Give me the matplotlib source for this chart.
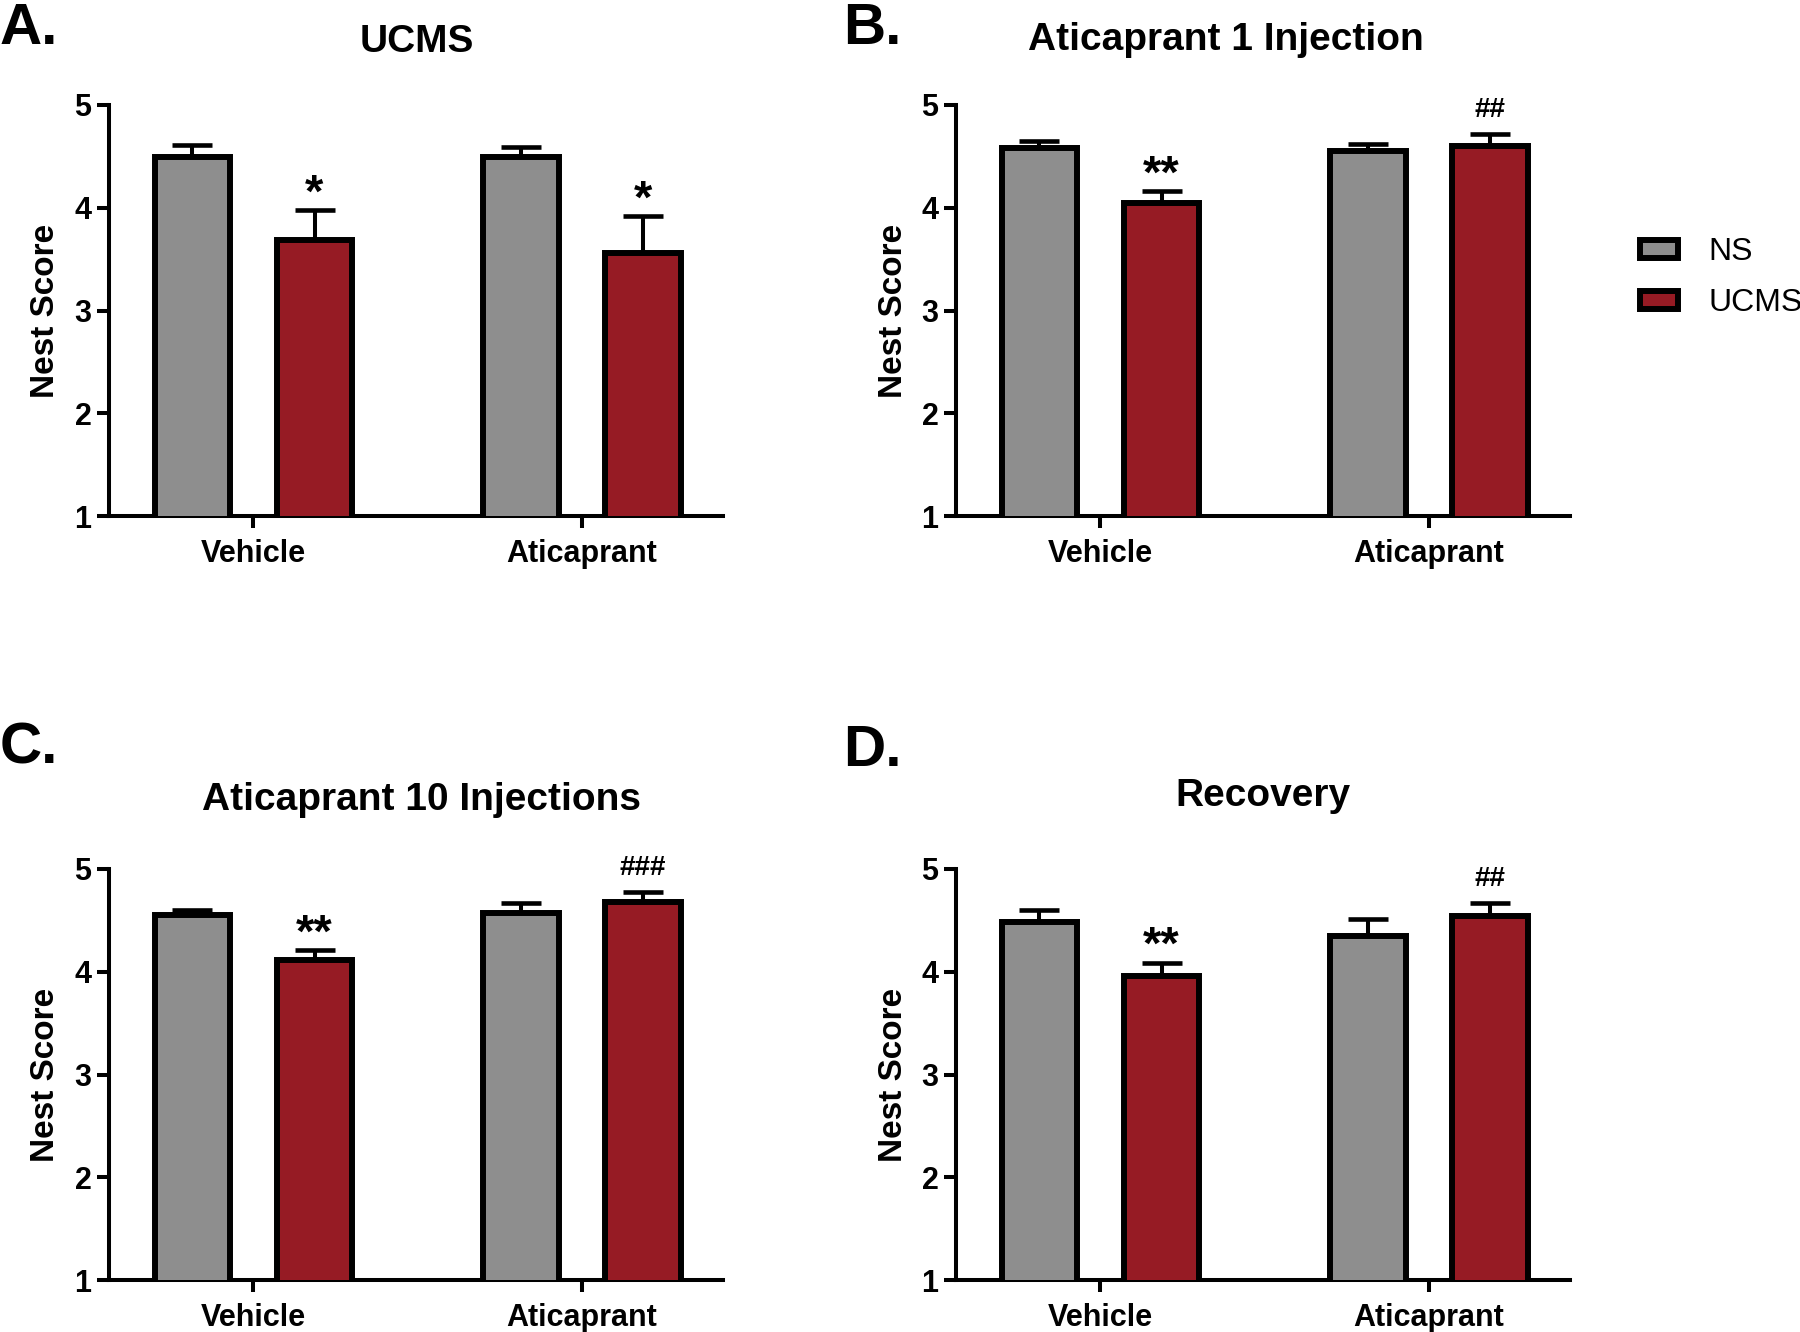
import matplotlib
matplotlib.use("Agg")
import matplotlib.pyplot as plt
import numpy as np
from matplotlib.patches import Patch

plt.rcParams['font.family'] = ['Liberation Sans', 'DejaVu Sans']

groups = ["Vehicle", "Aticaprant"]
series = ["NS", "UCMS"]
colors = ["#8e8e8e", "#961b24"]
yticks = [1, 2, 3, 4, 5]
ylabel = "Nest Score"

titles = ["UCMS", "Aticaprant 1 Injection", "Aticaprant 10 Injections", "Recovery"]
panel_letters = ["A.", "B.", "C.", "D."]

ns_mean = [[4.49, 4.49], [4.58, 4.55], [4.55, 4.57], [4.48, 4.35]]
ns_sem = [[0.12, 0.10], [0.07, 0.07], [0.05, 0.10], [0.12, 0.16]]
ucms_mean = [[3.69, 3.56], [4.05, 4.60], [4.11, 4.68], [3.96, 4.54]]
ucms_sem = [[0.29, 0.36], [0.11, 0.12], [0.10, 0.10], [0.13, 0.13]]

# significance labels above UCMS bars (vehicle, aticaprant)
sig = [["*", "*"], ["**", "##"], ["**", "###"], ["**", "##"]]

W, H = 1800, 1332
fig = plt.figure(figsize=(W / 100, H / 100), dpi=100)

# axes frames in pixels: (left, top(y=5), width, bottom(y=1))
frames = [(109, 105, 614, 516), (956, 105, 614, 516),
          (109, 869, 614, 1280), (956, 869, 614, 1280)]
title_pos = [(417, 52), (1226, 50), (421, 810), (1263, 806)]
letter_pos = [(0, 44), (843, 44), (0, 764), (843, 766)]
ylab_x = [46, 894, 46, 894]

edge_lw = 4.3
axis_lw = 2.9
offset = 0.186
bw = 0.23

for i in range(4):
    l, t, w, b = frames[i]
    ax = fig.add_axes([l / W, 1 - b / H, w / W, (b - t) / H])
    x = np.arange(len(groups))
    for j, (means, sems) in enumerate([(ns_mean[i], ns_sem[i]), (ucms_mean[i], ucms_sem[i])]):
        xs = x + (2 * j - 1) * offset
        ax.bar(xs, means, width=bw, color=colors[j], edgecolor="black",
               linewidth=edge_lw, zorder=3)
        ax.errorbar(xs, means, yerr=[np.zeros(len(means)), sems], fmt="none",
                    ecolor="black", elinewidth=2.9, capsize=14.5, capthick=3.3,
                    zorder=2)
        if j == 1:
            for k in range(len(groups)):
                s = sig[i][k]
                top = means[k] + sems[k]
                if s.startswith("*"):
                    ax.annotate(s, (xs[k], top), xytext=(0, 2.5), textcoords="offset points",
                                ha="center", va="baseline", fontsize=34,
                                fontweight="bold", annotation_clip=False)
                else:
                    ax.annotate(s, (xs[k], top), xytext=(0, 12), textcoords="offset points",
                                ha="center", va="baseline", fontsize=20,
                                fontweight="bold", annotation_clip=False)
    ax.set_xlim(-0.44, 1.43)
    ax.set_ylim(1, 5)
    ax.set_yticks(yticks)
    ax.set_xticks(x)
    ax.set_xticklabels(groups, fontsize=22, fontweight="bold")
    ax.set_yticklabels([str(v) for v in yticks], fontsize=22, fontweight="bold")
    for sp in ["top", "right"]:
        ax.spines[sp].set_visible(False)
    for sp in ["left", "bottom"]:
        ax.spines[sp].set_linewidth(axis_lw)
    ax.tick_params(axis="both", length=8.6, width=axis_lw, pad=4)
    ax.tick_params(axis="x", pad=8)

    fig.text(title_pos[i][0] / W, 1 - title_pos[i][1] / H, titles[i],
             ha="center", va="baseline", fontsize=28, fontweight="bold")
    fig.text(letter_pos[i][0] / W, 1 - letter_pos[i][1] / H, panel_letters[i],
             ha="left", va="baseline", fontsize=42, fontweight="bold")
    fig.text(ylab_x[i] / W, 1 - (t + b) / 2 / H, ylabel, rotation=90,
             ha="center", va="center", fontsize=24, fontweight="bold")

handles = [Patch(facecolor=colors[k], edgecolor="black", linewidth=edge_lw) for k in range(2)]
fig.legend(handles, series, loc="center left", bbox_to_anchor=(1640 / W, 1 - 277.5 / H),
           frameon=False, fontsize=23, handlelength=1.19, handleheight=0.5,
           handletextpad=0.94, labelspacing=0.66, borderpad=0, borderaxespad=0)

fig.savefig("out.png", dpi=100)
